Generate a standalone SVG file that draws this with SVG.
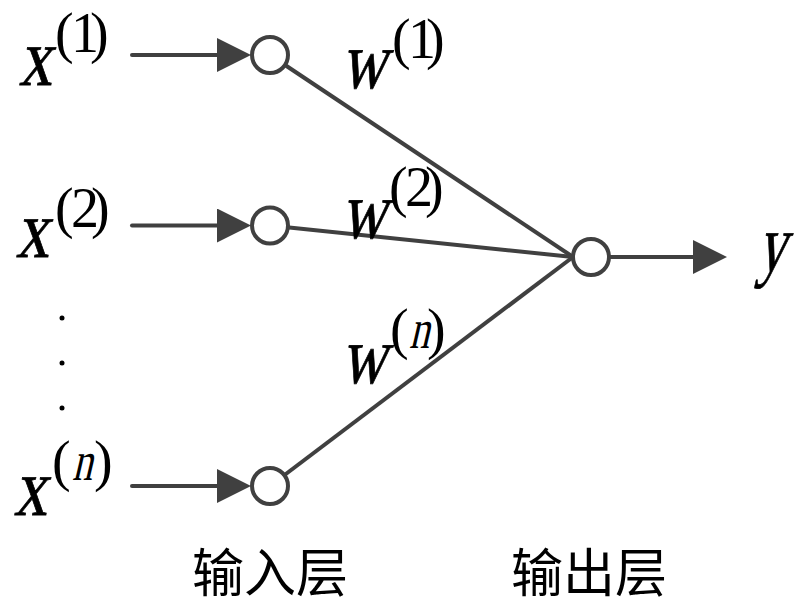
<svg xmlns="http://www.w3.org/2000/svg" width="802" height="607" viewBox="0 0 802 607">
  <style>
    text.m { font-family: 'Liberation Serif', 'Times New Roman', serif; font-style: normal; fill: #000; }
    .main { font-size: 82px; stroke: #000; stroke-width: 0.8; }
    .sup { font-size: 56px; }
    text.cjk { font-family: 'Noto Sans CJK SC', 'Noto Sans CJK JP', sans-serif; font-size: 52px; fill: #000; }
    .wire { stroke: #404040; stroke-width: 4; fill: none; }
    .node { stroke: #404040; stroke-width: 4; fill: #fff; }
  </style>
  <defs>
    <marker id="arr" markerUnits="userSpaceOnUse" markerWidth="34" markerHeight="34" refX="13" refY="17" orient="auto">
      <path d="M0,0 L34,17 L0,34 z" fill="#404040"/>
    </marker>
  </defs>

  <g id="connectors">
    <line class="wire" x1="132" y1="55" x2="230" y2="55" stroke-linecap="round" marker-end="url(#arr)"/>
    <line class="wire" x1="132" y1="225.5" x2="230" y2="225.5" stroke-linecap="round" marker-end="url(#arr)"/>
    <line class="wire" x1="132" y1="486" x2="230" y2="486" stroke-linecap="round" marker-end="url(#arr)"/>
    <line class="wire" x1="270" y1="55" x2="573" y2="257"/>
    <line class="wire" x1="270" y1="225.5" x2="573" y2="257"/>
    <line class="wire" x1="270" y1="486" x2="573" y2="257"/>
    <line class="wire" x1="609" y1="257" x2="706" y2="257" marker-end="url(#arr)"/>
  </g>

  <g id="in1"><circle class="node" cx="270" cy="55" r="18"/></g>
  <g id="in2"><circle class="node" cx="270" cy="225.5" r="18"/></g>
  <g id="inn"><circle class="node" cx="270" cy="486" r="18"/></g>
  <g id="out"><circle class="node" cx="591" cy="257" r="18"/></g>

  <g id="x1">
    <text class="m main" transform="translate(19,85) skewX(-10) scale(0.8,1)">x</text>
    <text class="m sup" x="55 71 90" y="52">(1)</text>
  </g>
  <g id="x2">
    <text class="m main" transform="translate(16,257) skewX(-10) scale(0.8,1)">x</text>
    <text class="m sup" x="55 71 91" y="227">(2)</text>
  </g>
  <g id="dots">
    <circle cx="62" cy="318" r="2.5" fill="#000"/>
    <circle cx="62" cy="363" r="2.5" fill="#000"/>
    <circle cx="62" cy="408" r="2.5" fill="#000"/>
  </g>
  <g id="xn">
    <text class="m main" transform="translate(14,515) skewX(-10) scale(0.8,1)">x</text>
    <text class="m sup" x="52" y="480">(</text>
    <text class="m sup" transform="translate(72,480) skewX(-13) scale(0.72,1)">n</text>
    <text class="m sup" x="94" y="480">)</text>
  </g>

  <g id="w1">
    <text class="m main" transform="translate(341,88) skewX(-12) scale(0.76,1)">w</text>
    <text class="m sup" x="392 408 426" y="58">(1)</text>
  </g>
  <g id="w2">
    <text class="m main" transform="translate(341,238) skewX(-12) scale(0.76,1)">w</text>
    <text class="m sup" x="389 405 425" y="206">(2)</text>
  </g>
  <g id="wn">
    <text class="m main" transform="translate(341,383) skewX(-12) scale(0.76,1)">w</text>
    <text class="m sup" x="390" y="348">(</text>
    <text class="m sup" transform="translate(409,348) skewX(-13) scale(0.72,1)">n</text>
    <text class="m sup" x="427" y="348">)</text>
  </g>

  <g id="y">
    <text class="m main" transform="translate(757,271) skewX(-13) scale(0.68,1)">y</text>
  </g>

  <g id="labels">
    <text class="cjk" x="192" y="592">输入层</text>
    <text class="cjk" x="511" y="592">输出层</text>
  </g>
</svg>
